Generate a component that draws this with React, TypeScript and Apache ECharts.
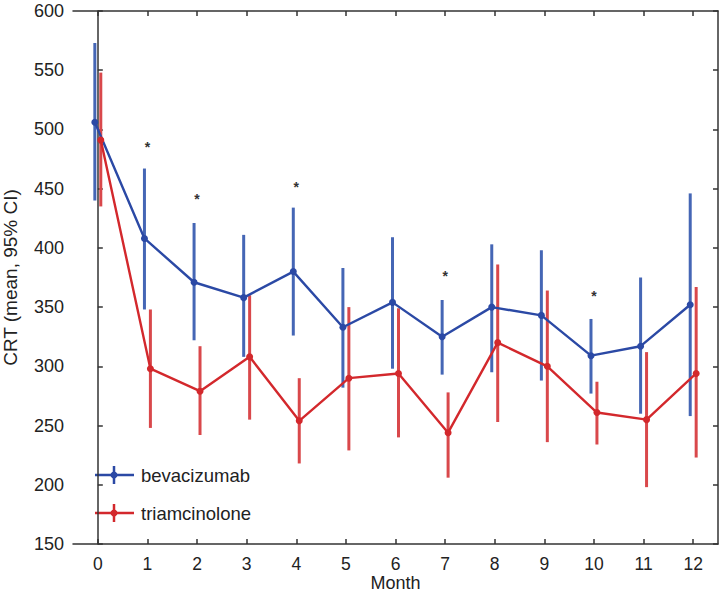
import React, { useEffect, useRef } from "react";
import * as echarts from "echarts";

const months = [0, 1, 2, 3, 4, 5, 6, 7, 8, 9, 10, 11, 12];
const monthLabels = ["0", "1", "2", "3", "4", "5", "6", "7", "8", "9", "10", "11", "12"];

const bevMean = [506, 408, 371, 358, 380, 333, 354, 325, 350, 343, 309, 317, 352];
const bevLow = [440, 348, 322, 308, 326, 282, 298, 293, 295, 288, 277, 260, 258];
const bevHigh = [573, 467, 421, 411, 434, 383, 409, 356, 403, 398, 340, 375, 446];

const triMean = [491, 298, 279, 308, 254, 290, 294, 244, 320, 300, 261, 255, 294];
const triLow = [435, 248, 242, 255, 218, 229, 240, 206, 253, 236, 234, 198, 223];
const triHigh = [548, 348, 317, 360, 290, 350, 349, 278, 386, 364, 287, 312, 367];

const starMonths = [1, 2, 4, 7, 10];
const starValues = [485, 441, 451, 376, 359];

const yTicks = { min: 150, max: 600, interval: 50 };

const BLUE = "#2b49a5";
const BLUE_BAR = "#4566b5";
const RED = "#d3282c";
const RED_BAR = "#d9484b";
const FONT = "Liberation Sans, Arial, sans-serif";

export default function App() {
  const ref = useRef<HTMLDivElement>(null);
  useEffect(() => {
    if (!ref.current) return;
    const chart = echarts.init(ref.current, undefined, { renderer: "svg" });
    const off = 0.06;
    const errSeries = (name: string, low: number[], high: number[], o: number, color: string) => ({
      type: "custom",
      name,
      xAxisIndex: 1,
      yAxisIndex: 0,
      encode: { x: 0, y: [1, 2] },
      data: months.map((m, i) => [m + o, low[i], high[i]]),
      renderItem: (params: any, api: any) => {
        const x = api.value(0);
        const p1 = api.coord([x, api.value(1)]);
        const p2 = api.coord([x, api.value(2)]);
        return {
          type: "line",
          shape: { x1: p1[0], y1: p1[1], x2: p2[0], y2: p2[1] },
          style: { stroke: color, lineWidth: 3 },
        };
      },
      silent: true,
    });
    const lineSeries = (name: string, mean: number[], o: number, color: string) => ({
      type: "line",
      name,
      xAxisIndex: 1,
      yAxisIndex: 0,
      data: months.map((m, i) => [m + o, mean[i]]),
      symbol: "circle",
      symbolSize: 7,
      itemStyle: { color },
      lineStyle: { color, width: 2.4 },
    });
    const axisLineStyle = { color: "#333", width: 1.5 };
    const legendItem = (y: number, color: string, label: string) => ({
      type: "group",
      children: [
        { type: "line", shape: { x1: 95, y1: y, x2: 134, y2: y }, style: { stroke: color, lineWidth: 2.5 } },
        { type: "line", shape: { x1: 114, y1: y - 9, x2: 114, y2: y + 9 }, style: { stroke: color, lineWidth: 2.5 } },
        { type: "circle", shape: { cx: 114, cy: y, r: 3.5 }, style: { fill: color } },
        {
          type: "text",
          x: 141,
          y,
          style: { text: label, font: `18.5px ${FONT}`, fill: "#222", textVerticalAlign: "middle" },
        },
      ],
    });
    chart.setOption({
      animation: false,
      backgroundColor: "#fff",
      grid: { left: 73, right: 4, top: 11, bottom: 51, containLabel: false, outerBoundsMode: "none" },
      xAxis: [
        {
          type: "category",
          data: monthLabels,
          position: "bottom",
          boundaryGap: true,
          name: "Month",
          nameLocation: "middle",
          nameGap: 30,
          nameMoveOverlap: false,
          nameTextStyle: { fontSize: 18, color: "#222", fontFamily: FONT },
          axisLine: { show: true, lineStyle: axisLineStyle },
          axisTick: { show: true, inside: true, alignWithLabel: true, length: 5, lineStyle: axisLineStyle },
          axisLabel: { fontSize: 17.5, color: "#222", fontFamily: FONT, margin: 11 },
          splitLine: { show: false },
        },
        {
          type: "value",
          min: -0.5,
          max: 12.5,
          position: "bottom",
          show: false,
        },
        {
          type: "category",
          data: monthLabels,
          position: "top",
          boundaryGap: true,
          axisLine: { show: true, lineStyle: axisLineStyle },
          axisTick: { show: true, inside: true, alignWithLabel: true, length: 5, lineStyle: axisLineStyle },
          axisLabel: { show: false },
          splitLine: { show: false },
        },
      ],
      yAxis: [
        {
          type: "value",
          ...yTicks,
          position: "left",
          name: "CRT (mean, 95% CI)",
          nameLocation: "middle",
          nameGap: 53,
          nameTextStyle: { fontSize: 19, color: "#222", fontFamily: FONT },
          axisLine: { show: true, lineStyle: axisLineStyle },
          axisTick: { show: true, inside: true, length: 5, lineStyle: axisLineStyle },
          axisLabel: { fontSize: 18, color: "#222", fontFamily: FONT, margin: 9 },
          splitLine: { show: false },
        },
        {
          type: "value",
          ...yTicks,
          position: "right",
          axisLine: { show: true, lineStyle: axisLineStyle },
          axisTick: { show: true, inside: true, length: 5, lineStyle: axisLineStyle },
          axisLabel: { show: false },
          splitLine: { show: false },
        },
      ],
      series: [
        errSeries("bevacizumab CI", bevLow, bevHigh, -off, BLUE_BAR),
        lineSeries("bevacizumab", bevMean, -off, BLUE),
        errSeries("triamcinolone CI", triLow, triHigh, off, RED_BAR),
        lineSeries("triamcinolone", triMean, off, RED),
        {
          type: "custom",
          name: "significance",
          xAxisIndex: 1,
          yAxisIndex: 0,
          data: starMonths.map((m, i) => [m, starValues[i]]),
          renderItem: (params: any, api: any) => {
            const p = api.coord([api.value(0), api.value(1)]);
            return {
              type: "text",
              x: p[0],
              y: p[1],
              style: {
                text: "*",
                font: `bold 14px ${FONT}`,
                fill: "#333",
                textAlign: "center",
                textVerticalAlign: "middle",
              },
            };
          },
          silent: true,
        },
      ],
      graphic: [legendItem(475, BLUE, "bevacizumab"), legendItem(513, RED, "triamcinolone")],
    });
    return () => chart.dispose();
  }, []);
  return (
    <div
      ref={ref}
      style={{ position: "fixed", left: 0, top: 0, width: 722, height: 595, background: "#fff" }}
    />
  );
}
